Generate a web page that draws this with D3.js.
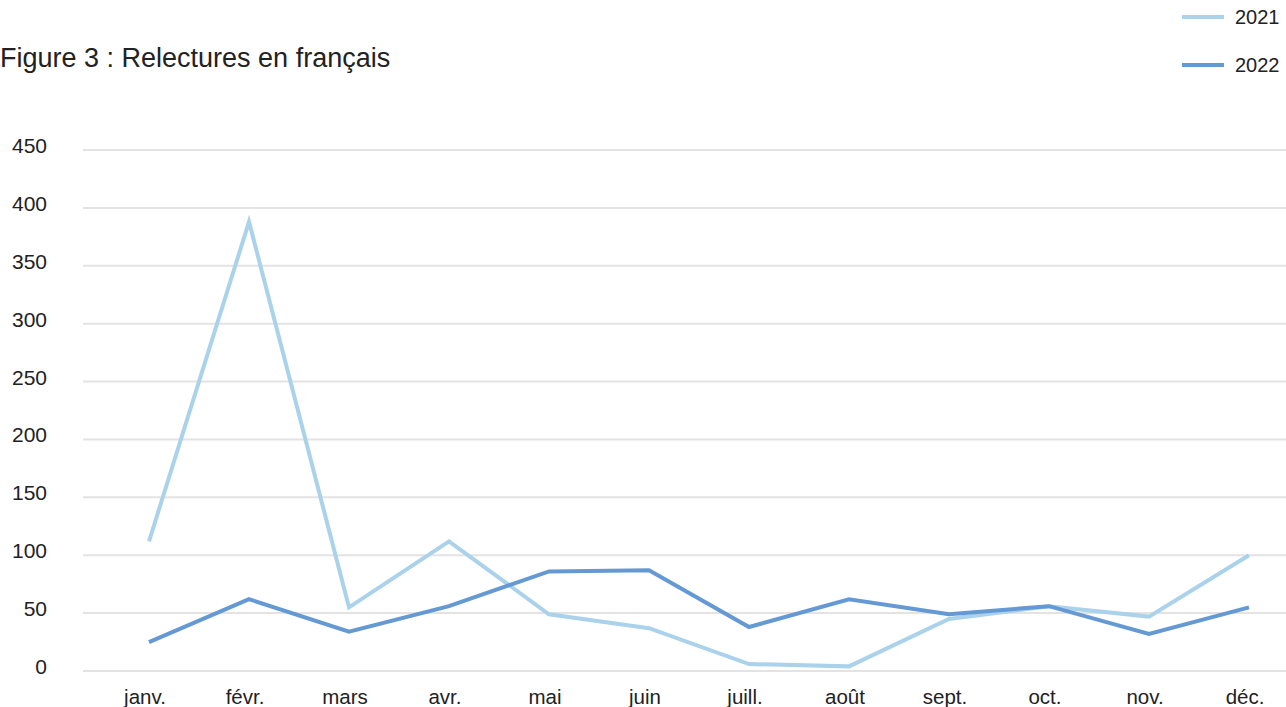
<!DOCTYPE html>
<html><head><meta charset="utf-8">
<script src="https://cdn.jsdelivr.net/npm/d3@7"></script>
<style>body{margin:0;background:#fff;} text{font-family:"Liberation Sans",Arial,Helvetica,sans-serif;fill:#222;}</style>
</head><body>
<svg id="c" width="1286" height="707"></svg>
<script>
const months = ["janv.","févr.","mars","avr.","mai","juin","juill.","août","sept.","oct.","nov.","déc."];
const values2021 = [112, 388, 55, 112, 49, 37, 6, 4, 45, 56, 47, 100];
const values2022 = [25, 62, 34, 56, 86, 87, 38, 62, 49, 56, 32, 55];
const yTicks = [0,50,100,150,200,250,300,350,400,450];
const seriesNames = ["2021","2022"];
const colors = ["#aad2ea","#6599d3"];

const svg = d3.select("#c");
const x = d3.scalePoint().domain(months).range([149, 1249]);
const y = d3.scaleLinear().domain([0,450]).range([671, 150]);

// gridlines
svg.append("g").selectAll("line").data(yTicks).join("line")
  .attr("x1",83).attr("x2",1286)
  .attr("y1",d=>y(d)).attr("y2",d=>y(d))
  .attr("stroke","#e3e3e3").attr("stroke-width",2);

// y labels
svg.append("g").selectAll("text").data(yTicks).join("text")
  .attr("x",47).attr("y",d=>y(d)+3).attr("text-anchor","end")
  .style("font-size","21px").text(d=>d);

// x labels
svg.append("g").selectAll("text").data(months).join("text")
  .attr("x",d=>x(d)-4).attr("y",704).attr("text-anchor","middle")
  .style("font-size","20.5px").text(d=>d);

const line = d3.line().x((d,i)=>x(months[i])).y(d=>y(d));
[values2021, values2022].forEach((vals,k)=>{
  svg.append("path").datum(vals).attr("d",line)
    .attr("fill","none").attr("stroke",colors[k]).attr("stroke-width",4)
    .attr("stroke-linejoin","miter");
});

// title
svg.append("text").attr("x",0).attr("y",67).style("font-size","27px").text("Figure 3 : Relectures en français");

// legend
const lg = svg.append("g");
seriesNames.forEach((n,k)=>{
  const yy = 17 + k*48;
  lg.append("line").attr("x1",1182).attr("x2",1224).attr("y1",yy).attr("y2",yy)
    .attr("stroke",colors[k]).attr("stroke-width",4);
  lg.append("text").attr("x",1235).attr("y",yy+7).style("font-size","20px").text(n);
});
</script>
</body></html>
